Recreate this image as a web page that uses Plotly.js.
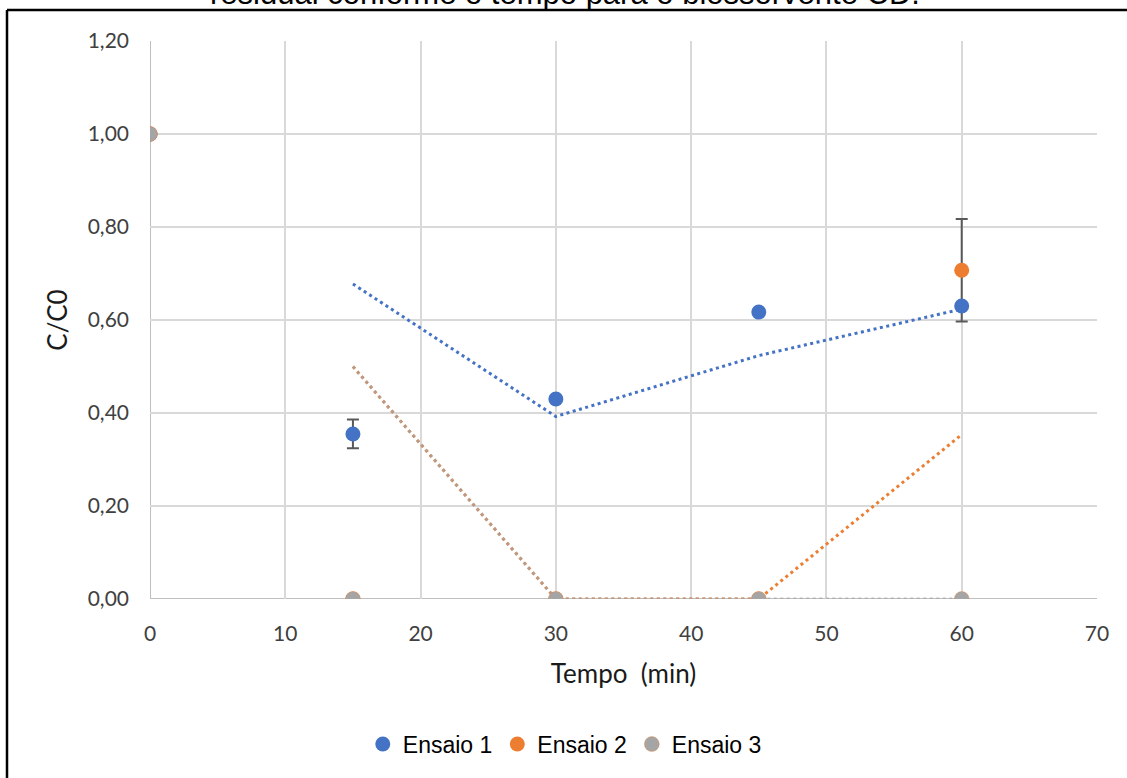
<!DOCTYPE html>
<html>
<head>
<meta charset="utf-8">
<script src="https://cdn.plot.ly/plotly-3.0.1.min.js"></script>
<style>
  html, body { margin: 0; padding: 0; background: #fff; }
  #chart { width: 1127px; height: 778px; }
</style>
</head>
<body>
<div id="chart"></div>
<script>
// Time points (min)
const tempo = [0, 15, 30, 45, 60];

// C/C0 for each run
const ensaio1 = [1.00, 0.355, 0.430, 0.617, 0.630];
const ensaio2 = [1.00, 0.000, 0.000, 0.000, 0.707];
const ensaio3 = [1.00, 0.000, 0.000, 0.000, 0.000];

// Standard deviations (error bars)
const erro1 = [0, 0.031, 0, 0, 0];
const erro2 = [0, 0, 0, 0, 0.110];

const nomes = ['Ensaio 1', 'Ensaio 2', 'Ensaio 3'];
const cores = ['#4472C4', '#ED7D31', '#A5A5A5'];

const xTicks = [0, 10, 20, 30, 40, 50, 60, 70];
const yTicks = [0, 0.2, 0.4, 0.6, 0.8, 1.0, 1.2];

// Two-period moving average trendline
function mediaMovel(xs, ys) {
  const x = [], y = [];
  for (let i = 1; i < ys.length; i++) {
    x.push(xs[i]);
    y.push((ys[i - 1] + ys[i]) / 2);
  }
  return { x, y };
}

const traces = [];

// Trendlines (dotted)
[ensaio1, ensaio2, ensaio3].forEach((serie, i) => {
  const mm = mediaMovel(tempo, serie);
  traces.push({
    x: mm.x, y: mm.y, type: 'scatter', mode: 'lines',
    line: { color: cores[i], width: 3, dash: '3px,3.5px' },
    opacity: i === 2 ? 0.7 : 1,
    hoverinfo: 'skip', showlegend: false
  });
});

const barraErro = (arr) => ({
  type: 'data', array: arr, visible: true,
  color: '#595959', thickness: 2, width: 6
});

// Error bars of run 2 sit underneath the run 1 markers
traces.push({
  x: tempo, y: ensaio2, type: 'scatter', mode: 'markers',
  marker: { size: 15, color: cores[1], opacity: 0 },
  error_y: barraErro(erro2),
  hoverinfo: 'skip', showlegend: false
});

traces.push({
  x: tempo, y: ensaio1, type: 'scatter', mode: 'markers', name: nomes[0],
  marker: { size: 15, color: cores[0] },
  error_y: barraErro(erro1)
});
traces.push({
  x: tempo, y: ensaio2, type: 'scatter', mode: 'markers', name: nomes[1],
  marker: { size: 15, color: cores[1] }
});
traces.push({
  x: tempo, y: ensaio3, type: 'scatter', mode: 'markers', name: nomes[2],
  marker: { size: 15, color: cores[2], line: { color: 'rgba(237,125,49,0.35)', width: 1 } }
});

const fonteEixo = { family: 'Lato, "Open Sans", sans-serif', size: 21, color: '#404040' };
const fonteTitulo = { family: 'Lato, "Open Sans", sans-serif', size: 26, color: '#1a1a1a' };

const layout = {
  width: 1127, height: 778,
  margin: { l: 150, r: 30, t: 41, b: 179 },
  paper_bgcolor: '#fff', plot_bgcolor: '#fff',
  separators: ',.',
  showlegend: true,
  legend: {
    orientation: 'h', x: 0.438, xanchor: 'center', y: -0.26, yanchor: 'middle',
    font: { family: '"Liberation Sans", Arial, sans-serif', size: 23, color: '#000' },
    itemwidth: 30, traceorder: 'normal'
  },
  xaxis: {
    range: [0, 70], tickvals: xTicks, ticktext: xTicks.map(String),
    showgrid: true, gridcolor: '#D9D9D9', gridwidth: 2,
    showline: false, zeroline: false, ticks: '',
    ticklabelstandoff: 20,
    tickfont: fonteEixo,
    title: { text: 'Tempo  (min)', standoff: 20, font: fonteTitulo }
  },
  yaxis: {
    range: [0, 1.2], tickvals: yTicks, tickformat: '.2f',
    showgrid: true, gridcolor: '#D9D9D9', gridwidth: 2,
    showline: false, zeroline: false, ticks: '',
    ticklabelstandoff: 20,
    tickfont: fonteEixo,
    title: { text: 'C/C0', standoff: 12, font: fonteTitulo }
  },
  shapes: [
    // axis lines at x = 0 and y = 0
    { type: 'line', xref: 'x', yref: 'paper', x0: 0, x1: 0, y0: 0, y1: 1,
      line: { color: '#BFBFBF', width: 2 }, layer: 'below' },
    { type: 'line', xref: 'paper', yref: 'y', x0: 0, x1: 1, y0: 0, y1: 0,
      line: { color: '#BFBFBF', width: 2 }, layer: 'below' },
    // frame of the figure
    { type: 'line', xref: 'paper', yref: 'paper', x0: -0.151, x1: 1.1, y0: 1.0556, y1: 1.0556,
      line: { color: '#000', width: 2.5 } },
    { type: 'line', xref: 'paper', yref: 'paper', x0: -0.151, x1: -0.151, y0: 1.0556, y1: -0.4,
      line: { color: '#000', width: 2.5 } }
  ],
  annotations: [
    { text: 'residual conforme o tempo para o biossorvente CD.',
      xref: 'paper', yref: 'paper', x: 0.438, y: 1.0502,
      xanchor: 'center', yanchor: 'bottom', showarrow: false,
      font: { family: '"Liberation Sans", Arial, sans-serif', size: 31, color: '#000' } }
  ]
};

Plotly.newPlot('chart', traces, layout, { displayModeBar: false, staticPlot: true });
</script>
</body>
</html>
